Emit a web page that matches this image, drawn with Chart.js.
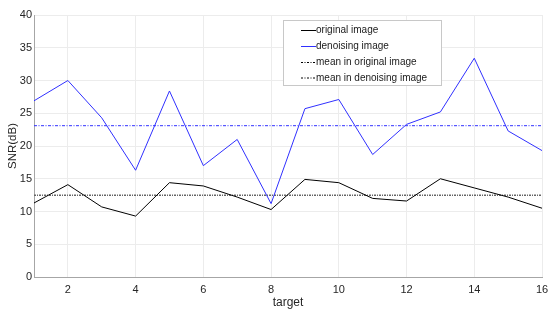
<!DOCTYPE html>
<html>
<head>
<meta charset="utf-8">
<script src="https://cdn.jsdelivr.net/npm/chart.js@4/dist/chart.umd.min.js"></script>
<style>
  html, body { margin: 0; padding: 0; background: #fff; }
  #wrap { width: 550px; height: 314px; }
</style>
</head>
<body>
<div id="wrap"><canvas id="chart" width="550" height="314"></canvas></div>
<script>
  // data
  var targets = [1, 2, 3, 4, 5, 6, 7, 8, 9, 10, 11, 12, 13, 14, 15, 16];
  var originalSNR = [11.3, 14.1, 10.7, 9.3, 14.4, 13.9, 12.2, 10.3, 14.9, 14.4, 12.0, 11.6, 15.0, 13.6, 12.2, 10.5];
  var denoisingSNR = [26.9, 30.0, 24.3, 16.3, 28.4, 17.0, 21.0, 11.2, 25.7, 27.1, 18.7, 23.3, 25.2, 33.4, 22.3, 19.3];
  var meanOriginal = 12.5;
  var meanDenoising = 23.1;
  var xTicks = [2, 4, 6, 8, 10, 12, 14, 16];
  var yTicks = [0, 5, 10, 15, 20, 25, 30, 35, 40];
  var legendLabels = ["original image", "denoising image", "mean in original image", "mean in denoising image"];

  var FONT = "'Liberation Sans', Arial, sans-serif";
  var BLUE = "#3030ff";

  function points(xs, ys) {
    var out = [];
    for (var i = 0; i < xs.length; i++) out.push({x: xs[i], y: ys[i]});
    return out;
  }

  // the legend sits inside the plot, drawn like matlab's box
  var boxLegend = {
    id: 'boxLegend',
    afterDatasetsDraw: function(chart) {
      var ctx = chart.ctx;
      var left = 283.5, top = 20.5, w = 158, h = 65;
      ctx.save();
      ctx.fillStyle = "#fff";
      ctx.fillRect(left, top, w, h);
      ctx.strokeStyle = "#c8c8c8";
      ctx.lineWidth = 1;
      ctx.strokeRect(left, top, w, h);
      var rows = [30, 46, 62, 77.5];
      var styles = [
        {color: "#000", dash: []},
        {color: BLUE, dash: []},
        {color: "#000", dash: [2, 1.5, 1, 1.5]},
        {color: "#000", dash: [2, 1.5, 1, 1.5]}
      ];
      ctx.font = "10px " + FONT;
      ctx.textBaseline = "middle";
      for (var i = 0; i < rows.length; i++) {
        ctx.beginPath();
        ctx.setLineDash(styles[i].dash);
        ctx.strokeStyle = styles[i].color;
        ctx.moveTo(301, rows[i] + 0.5);
        ctx.lineTo(316, rows[i] + 0.5);
        ctx.stroke();
        ctx.fillStyle = "#1a1a1a";
        ctx.fillText(legendLabels[i], 316, rows[i] + 0.5);
      }
      ctx.restore();
    }
  };

  var chart = new Chart(document.getElementById("chart").getContext("2d"), {
    type: 'line',
    data: {
      datasets: [
        {
          label: legendLabels[0],
          data: points(targets, originalSNR),
          borderColor: "#000",
          borderWidth: 1,
          pointRadius: 0,
          tension: 0
        },
        {
          label: legendLabels[1],
          data: points(targets, denoisingSNR),
          borderColor: BLUE,
          borderWidth: 1,
          pointRadius: 0,
          tension: 0
        },
        {
          label: legendLabels[2],
          data: [{x: targets[0], y: meanOriginal}, {x: targets[targets.length - 1], y: meanOriginal}],
          borderColor: "#666",
          borderWidth: 1.5,
          borderDash: [2, 1, 1, 1],
          pointRadius: 0
        },
        {
          label: legendLabels[3],
          data: [{x: targets[0], y: meanDenoising}, {x: targets[targets.length - 1], y: meanDenoising}],
          borderColor: BLUE,
          borderWidth: 1,
          borderDash: [3, 1.5, 1, 1.5],
          pointRadius: 0
        }
      ]
    },
    options: {
      responsive: false,
      animation: false,
      layout: { padding: { top: 15, right: 8, left: 0, bottom: 0 } },
      plugins: {
        legend: { display: false },
        tooltip: { enabled: false }
      },
      scales: {
        x: {
          type: 'linear',
          min: 1,
          max: 16,
          afterBuildTicks: function(scale) {
            scale.ticks = xTicks.map(function(v) { return {value: v}; });
          },
          afterFit: function(scale) { scale.height = 37; scale.paddingRight = 0; scale.paddingLeft = 0; },
          grid: { color: "#ececec", drawTicks: false },
          border: { color: "#a6a6a6" },
          ticks: { color: "#262626", font: { family: FONT, size: 11 }, padding: 6, maxRotation: 0 },
          title: { display: true, text: "target", color: "#262626", font: { family: FONT, size: 12 }, padding: { top: 0, bottom: 4 } }
        },
        y: {
          min: 0,
          max: 40,
          afterBuildTicks: function(scale) {
            scale.ticks = yTicks.map(function(v) { return {value: v}; });
          },
          afterFit: function(scale) { scale.width = 34; scale.paddingTop = 0; scale.paddingBottom = 0; },
          grid: { color: "#ececec", drawTicks: false },
          border: { color: "#a6a6a6" },
          ticks: { color: "#262626", font: { family: FONT, size: 11 }, padding: 2 },
          title: { display: true, text: "SNR(dB)", color: "#262626", font: { family: FONT, size: 11.5 }, padding: { top: 6, bottom: 0 } }
        }
      }
    },
    plugins: [boxLegend]
  });
</script>
</body>
</html>
